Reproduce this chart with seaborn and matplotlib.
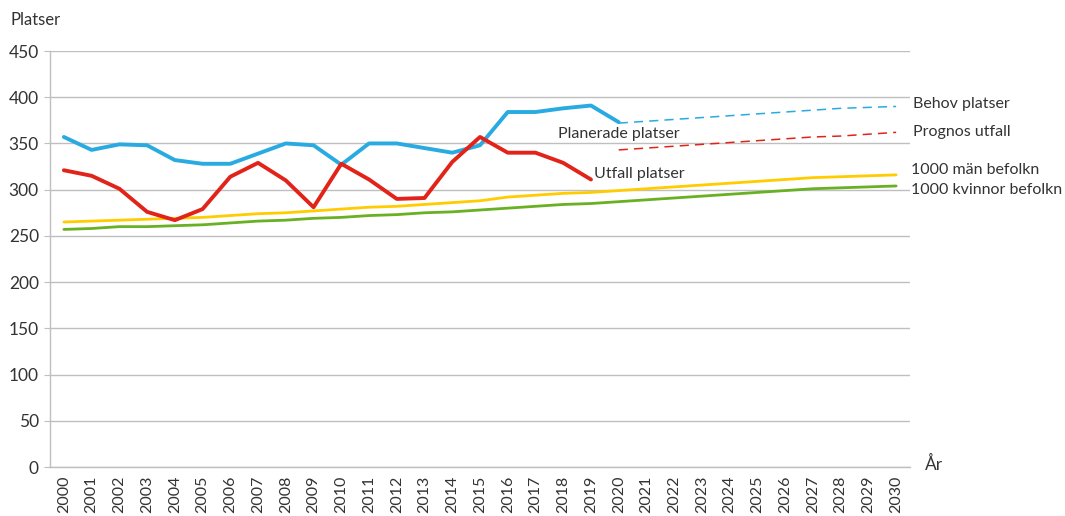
import pandas as pd
import seaborn as sns
import matplotlib.pyplot as plt
from matplotlib.ticker import FixedLocator

years = list(range(2000, 2031))
hist_years = list(range(2000, 2021))
utfall_years = list(range(2000, 2020))
prog_years = list(range(2020, 2031))

planerade = [357, 343, 349, 348, 332, 328, 328, 339, 350, 348, 327,
             350, 350, 345, 340, 348, 384, 384, 388, 391, 373]
utfall = [321, 315, 301, 276, 267, 279, 314, 329, 310, 281, 328,
          311, 290, 291, 330, 357, 340, 340, 329, 311]
behov = [372, 374, 376, 378, 380, 382, 384, 386, 388, 389, 390]
prognos = [343, 345, 347, 349, 351, 353, 355, 357, 358, 360, 362]
man = [265, 266, 267, 268, 269, 270, 272, 274, 275, 277, 279, 281, 282, 284, 286,
       288, 292, 294, 296, 297, 299, 301, 303, 305, 307, 309, 311, 313, 314, 315, 316]
kvinnor = [257, 258, 260, 260, 261, 262, 264, 266, 267, 269, 270, 272, 273, 275, 276,
           278, 280, 282, 284, 285, 287, 289, 291, 293, 295, 297, 299, 301, 302, 303, 304]

blue = "#29ABE2"
red = "#E2231A"
yellow = "#FFCC00"
green = "#6AB023"
txt = "#333333"

sns.set_style("white")
plt.rcParams["font.family"] = ["Lato", "DejaVu Sans"]

def pos(ys):
    return [y - 2000 for y in ys]

fig = plt.figure(figsize=(10.65, 5.16), dpi=100)
ax = fig.add_axes([50 / 1065, 49 / 516, 860 / 1065, 416 / 516])

sns.lineplot(x=pos(years), y=man, color=yellow, linewidth=2.0, ax=ax)
sns.lineplot(x=pos(years), y=kvinnor, color=green, linewidth=2.0, ax=ax)
sns.lineplot(x=pos(hist_years), y=planerade, color=blue, linewidth=2.8, ax=ax)
sns.lineplot(x=pos(utfall_years), y=utfall, color=red, linewidth=2.8, ax=ax)
sns.lineplot(x=pos(prog_years), y=behov, color=blue, linewidth=1.1, ax=ax, dashes=False)
sns.lineplot(x=pos(prog_years), y=prognos, color=red, linewidth=1.1, ax=ax, dashes=False)
for ln in ax.lines[-2:]:
    ln.set_dashes([6, 4])

ax.set_xlim(-0.5, 30.5)
ax.set_ylim(0, 450)
ax.set_yticks(range(0, 451, 50))
ax.yaxis.grid(True, color="#BFBFBF", linewidth=1.0)
ax.set_axisbelow(True)

ax.set_xticks(range(len(years)))
ax.set_xticklabels([str(y) for y in years], rotation=90, fontsize=11.5, color=txt)
ax.xaxis.set_minor_locator(FixedLocator([i - 0.5 for i in range(len(years) + 1)]))
ax.tick_params(axis="x", which="major", length=0, pad=6)
ax.tick_params(axis="x", which="minor", length=4, color="#BFBFBF", direction="out")
ax.tick_params(axis="y", length=4, color="#BFBFBF", direction="out", labelsize=12.5,
               labelcolor=txt, pad=4)
ax.tick_params(left=True, bottom=True)

for side in ["top", "right"]:
    ax.spines[side].set_visible(False)
for side in ["left", "bottom"]:
    ax.spines[side].set_color("#BFBFBF")
    ax.spines[side].set_linewidth(1.0)

fig.text(10 / 1065, 1 - 20 / 516, "Platser", fontsize=12, color=txt, va="center")
fig.text(925 / 1065, 1 - 464 / 516, "År", fontsize=12.5, color=txt, va="center")

lab = dict(fontsize=11.5, color=txt, va="center")
ax.text(30.6, 393, "Behov platser", **lab)
ax.text(30.6, 362, "Prognos utfall", **lab)
ax.text(30.52, 321, "1000 män befolkn", **lab)
ax.text(30.52, 300, "1000 kvinnor befolkn", **lab)
ax.text(17.8, 360, "Planerade platser", **lab)
ax.text(19.1, 317, "Utfall platser", **lab)

fig.savefig("out.png", dpi=100)
